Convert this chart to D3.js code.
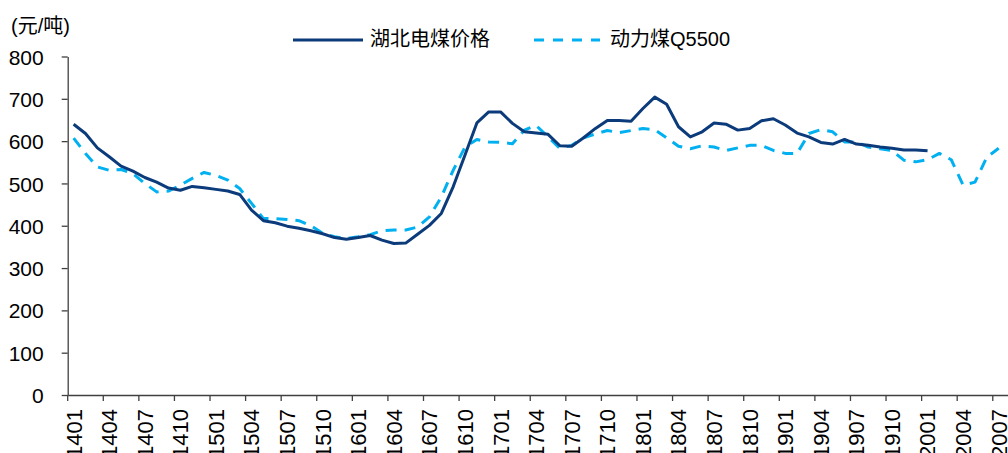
<!DOCTYPE html>
<html>
<head>
<meta charset="utf-8">
<script src="https://cdn.jsdelivr.net/npm/d3@7"></script>
<style>
    html, body { margin: 0; padding: 0; background: #fff; }
    svg { display: block; font-family: "Liberation Sans", Arial, "Noto Sans CJK SC", sans-serif; }
    .axis path, .axis line { stroke: #404040; stroke-width: 1.3; }
    .axis text { fill: #000; font-size: 21px; }
    .axis.x text { font-size: 22px; }
</style>
</head>
<body>
<svg id="chart" width="1008" height="453"></svg>
<script>
// ── Coal price chart ────────────────────────────────────────────────────────
(function () {
    'use strict';

    // months (yymm), one category each
    const months = [
        '1401','1402','1403','1404','1405','1406','1407','1408','1409','1410','1411','1412',
        '1501','1502','1503','1504','1505','1506','1507','1508','1509','1510','1511','1512',
        '1601','1602','1603','1604','1605','1606','1607','1608','1609','1610','1611','1612',
        '1701','1702','1703','1704','1705','1706','1707','1708','1709','1710','1711','1712',
        '1801','1802','1803','1804','1805','1806','1807','1808','1809','1810','1811','1812',
        '1901','1902','1903','1904','1905','1906','1907','1908','1909','1910','1911','1912',
        '2001','2002','2003','2004','2005','2006','2007','2008'
    ];

    // labelled ticks on the x axis
    const tickLabels = [
        '1401','1404','1407','1410','1501','1504','1507','1510','1601','1604','1607','1610',
        '1701','1704','1707','1710','1801','1804','1807','1810','1901','1904','1907','1910',
        '2001','2004','2007'
    ];

    const yTicks = [0, 100, 200, 300, 400, 500, 600, 700, 800];

    // 湖北电煤价格 (1401 – 2001)
    const hubeiPrice = [
        640, 618, 584, 563, 541, 529, 514, 503, 489, 484, 493, 490,
        486, 482, 474, 437, 412, 407, 399, 394, 388, 381, 372, 368,
        372, 377, 366, 358, 359, 380, 401, 429, 492, 567, 643, 669,
        669, 642, 622, 619, 616, 589, 588, 608, 630, 649, 649, 647,
        677, 704, 687, 634, 610, 622, 643, 640, 626, 630, 648, 653,
        638, 619, 610, 597, 593, 604, 593, 590, 586, 583, 579, 579,
        577
    ];

    // 动力煤Q5500 (1401 – 2007)
    const q5500Price = [
        607, 571, 539, 531, 533, 523, 500, 480, 482, 496, 512, 526,
        519, 508, 488, 453, 417, 417, 415, 412, 400, 382, 374, 370,
        374, 379, 388, 390, 390, 397, 421, 468, 531, 586, 604, 598,
        597, 594, 626, 637, 610, 583, 590, 608, 617, 625, 620, 625,
        630, 627, 608, 588, 582, 589, 586, 578, 584, 590, 590, 578,
        571, 571, 618, 627, 622, 598, 598, 586, 582, 578, 555, 551,
        556, 571, 556, 496, 503, 562, 583
    ];

    const seriesNames = ['湖北电煤价格', '动力煤Q5500'];
    const seriesColors = ['#0C3B7C', '#00B0F0'];

    const plot = { left: 67.7, top: 56.5, bottom: 395, step: 11.86 };

    const svg = d3.select('#chart');

    const x = d3.scaleBand()
        .domain(months)
        .range([plot.left, plot.left + plot.step * months.length])
        .paddingInner(0)
        .paddingOuter(0);

    const y = d3.scaleLinear()
        .domain([0, 800])
        .range([plot.bottom, plot.top]);

    const bw = x.bandwidth();
    const cx = function (m) { return x(m) + bw / 2; };

    // y axis
    const yAxis = svg.append('g')
        .attr('class', 'axis')
        .attr('transform', 'translate(' + plot.left + ',0)')
        .call(d3.axisLeft(y).tickValues(yTicks).tickSize(6).tickPadding(18).tickSizeOuter(0));
    yAxis.selectAll('text').attr('dy', '0.36em');

    // x axis: ticks on category boundaries, labels centred on categories
    const xAxis = svg.append('g')
        .attr('class', 'axis x')
        .attr('transform', 'translate(0,' + plot.bottom + ')')
        .call(d3.axisBottom(x).tickValues(tickLabels).tickSize(6).tickSizeOuter(0));
    xAxis.selectAll('.tick line')
        .attr('x1', -bw / 2)
        .attr('x2', -bw / 2);
    xAxis.selectAll('.tick text')
        .attr('transform', 'rotate(-90)')
        .attr('text-anchor', 'end')
        .attr('x', -14)
        .attr('y', 0)
        .attr('dy', '0.36em');

    // lines
    const line = d3.line()
        .x(function (d, i) { return cx(months[i]); })
        .y(function (d) { return y(d); });

    svg.append('path')
        .datum(q5500Price)
        .attr('fill', 'none')
        .attr('stroke', seriesColors[1])
        .attr('stroke-width', 3)
        .attr('stroke-dasharray', '11,8')
        .attr('stroke-linejoin', 'round')
        .attr('d', line);

    svg.append('path')
        .datum(hubeiPrice)
        .attr('fill', 'none')
        .attr('stroke', seriesColors[0])
        .attr('stroke-width', 3)
        .attr('stroke-linejoin', 'round')
        .attr('d', line);

    // unit label
    svg.append('text')
        .attr('x', 11)
        .attr('y', 33)
        .attr('font-size', 20)
        .attr('fill', '#000')
        .text('(元/吨)');

    // legend
    const legend = [
        { x1: 293, x2: 363, tx: 370, dash: null },
        { x1: 534, x2: 600, tx: 610, dash: '10,9' }
    ];
    legend.forEach(function (l, i) {
        svg.append('line')
            .attr('x1', l.x1).attr('x2', l.x2)
            .attr('y1', 40).attr('y2', 40)
            .attr('stroke', seriesColors[i])
            .attr('stroke-width', 3)
            .attr('stroke-dasharray', l.dash);
        svg.append('text')
            .attr('x', l.tx)
            .attr('y', 46)
            .attr('font-size', 20)
            .attr('fill', '#000')
            .text(seriesNames[i]);
    });
})();
</script>
</body>
</html>
